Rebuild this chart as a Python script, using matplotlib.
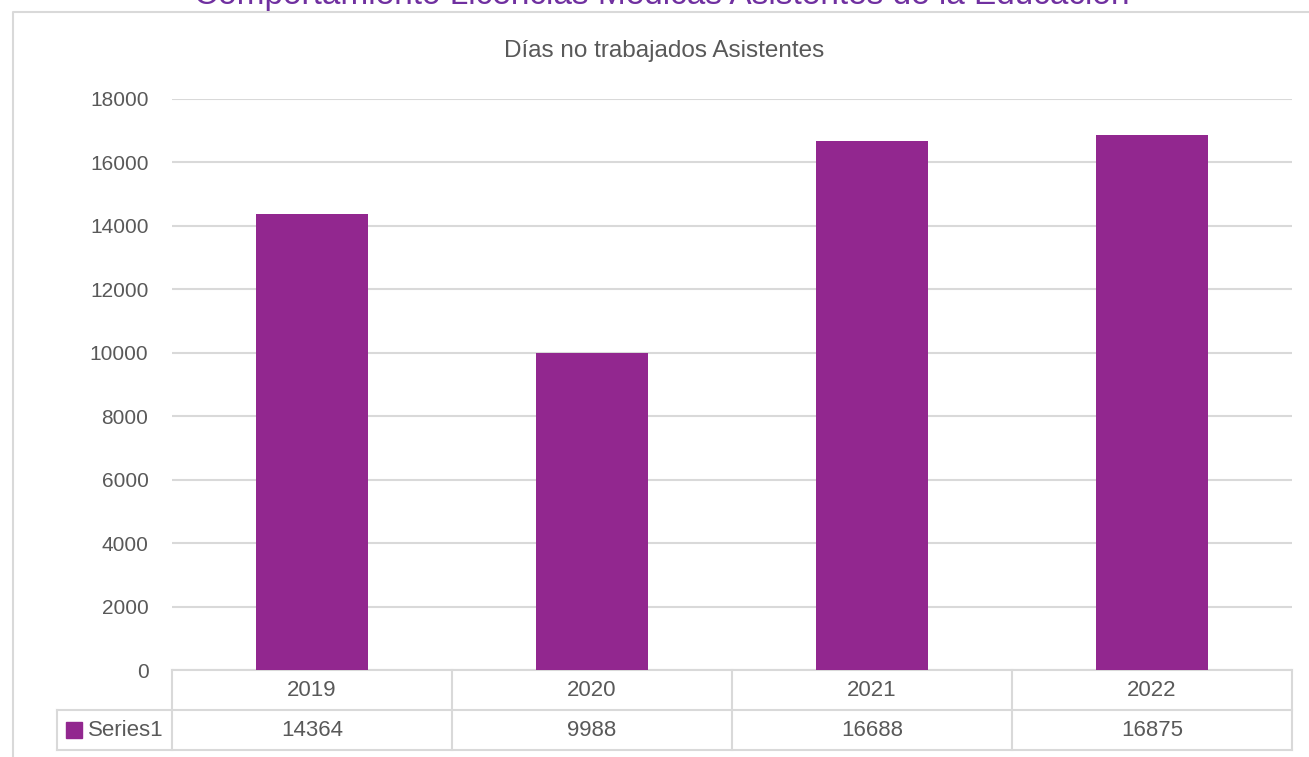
import matplotlib
matplotlib.use("Agg")
import matplotlib.pyplot as plt
import matplotlib.transforms as mtransforms
from matplotlib.lines import Line2D
import numpy as np

years = ["2019", "2020", "2021", "2022"]
dias = [14364, 9988, 16688, 16875]
series_name = "Series1"
titulo = "Comportamiento Licencias Médicas Asistentes de la Educación"
subtitulo = "Días no trabajados Asistentes"

bar_color = "#92278F"
grid_color = "#d9d9d9"
text_color = "#595959"

plt.rcParams['font.family'] = ['Liberation Sans', 'DejaVu Sans']

fig = plt.figure(figsize=(13.09, 7.57), dpi=100)
ax = fig.add_axes([172/1309, 1 - 670/757, 1120/1309, 571/757])

x = np.arange(len(years))
ax.bar(x, dias, width=0.4, color=bar_color, zorder=3)
ax.set_xlim(-0.5, len(years) - 0.5)
ax.set_ylim(0, 18000)
ax.set_yticks(np.arange(0, 18001, 2000))
ax.yaxis.grid(True, color=grid_color, linewidth=1.5, zorder=0)
ax.set_xticks([])
for s in ax.spines.values():
    s.set_visible(False)
ax.tick_params(axis='y', length=0, pad=17, labelsize=15, labelcolor=text_color)

# data table below the axis
trans = mtransforms.blended_transform_factory(ax.transData, ax.transAxes)
row_h = 40 / 571
lab_left = -0.5 - 115 / 280
lk = dict(color=grid_color, linewidth=1.5, transform=trans, clip_on=False)
ax.add_line(Line2D([-0.5, len(years) - 0.5], [0, 0], **lk))
ax.add_line(Line2D([lab_left, len(years) - 0.5], [-row_h, -row_h], **lk))
ax.add_line(Line2D([lab_left, len(years) - 0.5], [-2 * row_h, -2 * row_h], **lk))
ax.add_line(Line2D([lab_left, lab_left], [-row_h, -2 * row_h], **lk))
for i in range(len(years) + 1):
    ax.add_line(Line2D([i - 0.5, i - 0.5], [0, -2 * row_h], **lk))
for i, (yr, v) in enumerate(zip(years, dias)):
    ax.text(i, -row_h / 2, yr, transform=trans, ha='center', va='center',
            fontsize=16, color=text_color)
    ax.text(i, -1.5 * row_h, str(v), transform=trans, ha='center', va='center',
            fontsize=16, color=text_color)
ax.plot([lab_left + 0.06], [-1.5 * row_h], marker='s', markersize=11,
        color=bar_color, transform=trans, clip_on=False)
ax.text(-0.53, -1.5 * row_h, series_name, transform=trans, ha='right', va='center',
        fontsize=16, color=text_color)

# chart border and titles
fig.add_artist(Line2D([13/1309, 13/1309, 1.0], [0, 1 - 12/757, 1 - 12/757],
                      color=grid_color, linewidth=1.5, transform=fig.transFigure))
fig.text(662/1309, 1 - 4/757, titulo, ha='center', va='baseline',
         fontsize=24, color="#7030A0")
fig.text(664/1309, 1 - 51/757, subtitulo, ha='center', va='center',
         fontsize=17.5, color=text_color)

fig.savefig("out.png", dpi=100)
